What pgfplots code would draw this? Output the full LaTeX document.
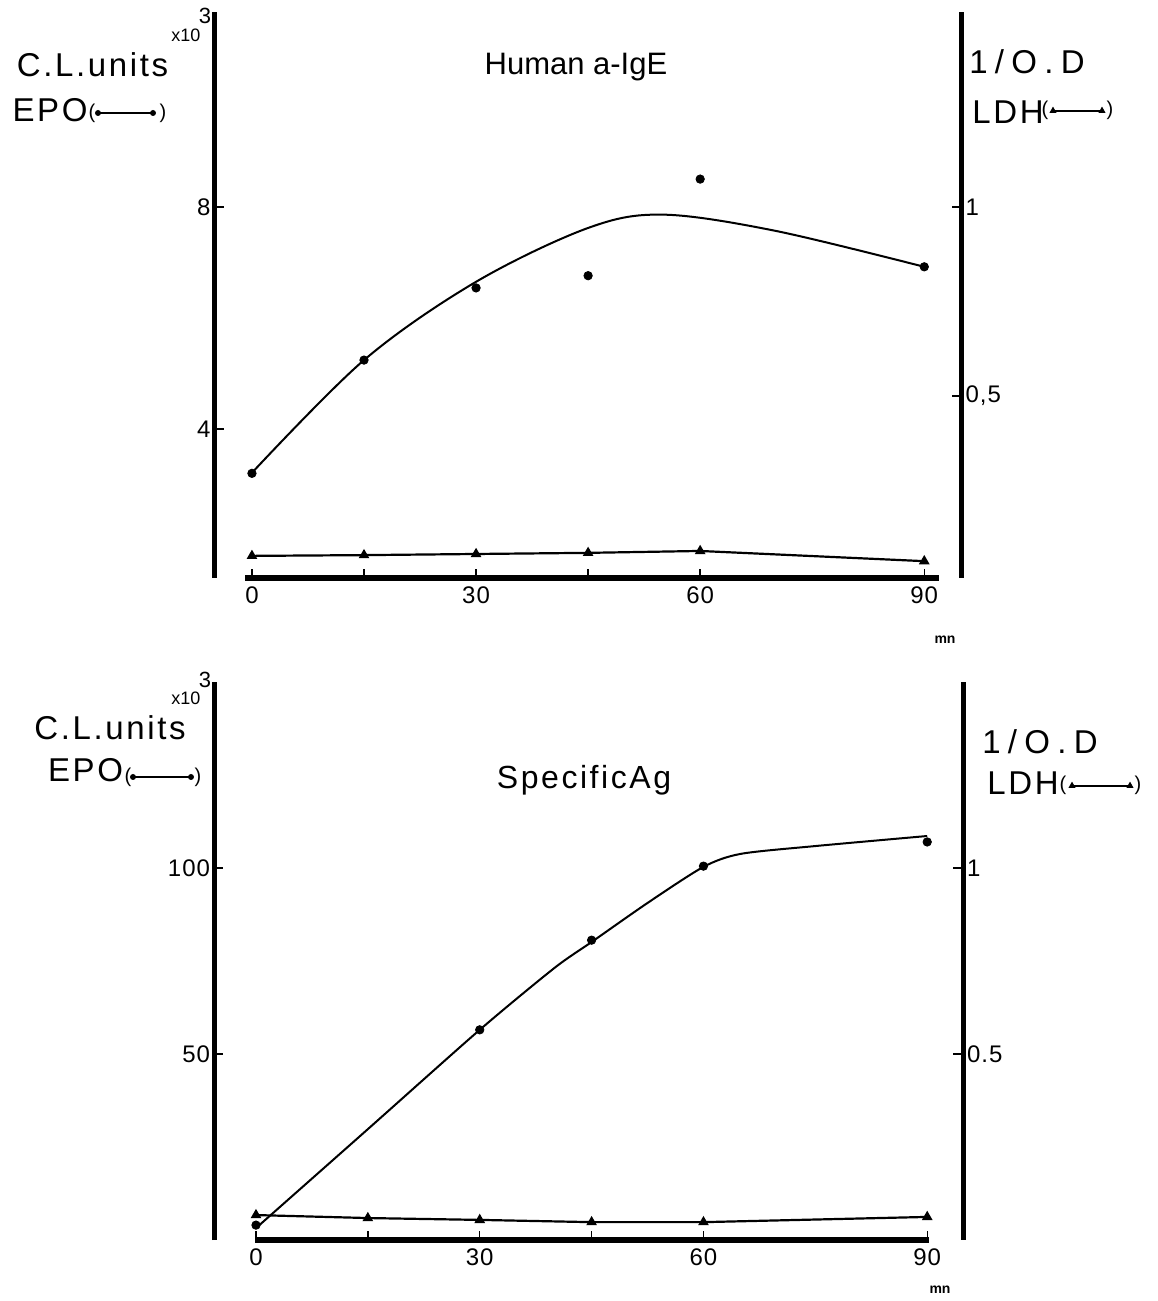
\documentclass[border=0pt]{standalone}
\usepackage{fontspec}
\setmainfont{Liberation Sans}
\newfontfamily\wide[LetterSpace=8]{Liberation Sans}
\newfontfamily\wider[LetterSpace=22]{Liberation Sans}
\newfontfamily\numfont[LetterSpace=4]{Liberation Sans}
\usepackage{pgfplots}
\pgfplotsset{compat=1.18}

\pgfplotsset{
  panel/.style={
    scale only axis, clip=false,
    axis x line*=bottom, axis y line*=left,
    x axis line style={draw=none},
    y axis line style={line width=2.5pt},
    tick align=inside, major tick length=4.5pt,
    tick style={black, line width=0.7pt},
    xtick={0,15,30,45,60,90}, xticklabels={0,,30,,60,90},
    /pgf/number format/assume math mode=true,
    ticklabel style={font=\numfont\fontsize{12}{14}\selectfont},
    xticklabel style={yshift=-1pt},
    yticklabel style={xshift=1.5pt},
  },
  ldh/.style={
    scale only axis, clip=false,
    axis x line=none, axis y line*=right,
    y axis line style={line width=2.5pt},
    tick align=inside, major tick length=5pt,
    tick style={black, line width=0.7pt},
    ytick={0.5,1},
    ticklabel style={font=\numfont\fontsize{12}{14}\selectfont},
    yticklabel style={xshift=-1.5pt},
  },
}

\begin{document}
\begin{tikzpicture}
\path[use as bounding box] (0pt,0pt) rectangle (578.5pt,650.5pt);

% ---------- top panel: Human a-IgE ----------
\begin{axis}[panel, at={(107.3pt,361.5pt)}, anchor=south west,
    width=373.5pt, height=283pt,
    xmin=-5, xmax=95, ymin=1.315, ymax=11.51, ytick={4,8}]
  % thick time axis
  \draw[line width=3.2pt] (axis cs:-0.9,1.315) -- (axis cs:92,1.315);
  % EPO fitted curve
  \addplot[black, line width=1pt, smooth, tension=0.55] coordinates {
    (0,3.21) (15,5.24) (30,6.65) (45,7.62)
    (55,7.86) (70,7.57) (90,6.92)};
  % EPO measured
  \addplot[only marks, mark=*, mark size=2.1pt, black] coordinates {
    (0,3.2) (15,5.24) (30,6.54) (45,6.76) (60,8.5) (90,6.92)};
\end{axis}
\begin{axis}[ldh, at={(107.3pt,361.5pt)}, anchor=south west,
    width=373.5pt, height=283pt,
    xmin=-5, xmax=95, ymin=0.0185, ymax=1.516,
    yticklabels={{0,5},1}]
  \addplot[black, line width=1.1pt, mark=triangle*, mark size=2pt] coordinates {
    (0,0.077) (15,0.079) (30,0.082) (45,0.085) (60,0.090) (90,0.063)};
\end{axis}

% ---------- bottom panel: SpecificAg ----------
\begin{axis}[panel, at={(107pt,30.5pt)}, anchor=south west,
    width=374.5pt, height=279pt,
    xmin=-5.63, xmax=94.8, ymin=0, ymax=150, ytick={50,100}]
  \draw[line width=3.2pt] (axis cs:-0.1,0) -- (axis cs:90.2,0);
  \addplot[black, line width=1pt, smooth, tension=0.45] coordinates {
    (0,3.2) (15,29.8) (30,56.5) (40,73.1) (45,80.1) (52.5,90.6)
    (60,100.3) (65,103.8) (75,105.9) (90,108.6)};
  \addplot[only marks, mark=*, mark size=2.1pt, black] coordinates {
    (0,4.0) (30,56.5) (45,80.6) (60,100.5) (90,107)};
\end{axis}
\begin{axis}[ldh, at={(107pt,30.5pt)}, anchor=south west,
    width=374.5pt, height=279pt,
    xmin=-5.63, xmax=94.8, ymin=0, ymax=1.5,
    yticklabels={0.5,1}]
  \addplot[black, line width=1.1pt, mark=triangle*, mark size=2pt] coordinates {
    (0,0.067) (15,0.059) (30,0.054) (45,0.048) (60,0.048) (90,0.062)};
\end{axis}

% ---------- labels, top ----------
\node[font=\wide\fontsize{16.5}{19}\selectfont] at (46.25pt,618pt) {C.L.units};
\node[font=\wide\fontsize{16.5}{19}\selectfont] at (25pt,595.5pt) {EPO};
\node[font=\fontsize{10}{11}\selectfont] at (46pt,594pt) {(};
\node[font=\fontsize{10}{11}\selectfont] at (81.5pt,594pt) {)};
\draw[line width=0.8pt] (49pt,594pt) -- (76.5pt,594pt);
\fill (49pt,594pt) circle (1.5pt); \fill (76.5pt,594pt) circle (1.5pt);
\node[font=\fontsize{9}{10}\selectfont] at (93pt,633pt) {x10};
\node[font=\fontsize{11}{12}\selectfont] at (102.5pt,642.5pt) {3};
\node[font=\fontsize{15.5}{18}\selectfont] at (288pt,617pt) {Human a-IgE};
\node[font=\wider\fontsize{16.5}{19}\selectfont] at (513.5pt,619.5pt) {1/O.D};
\node[font=\wide\fontsize{16.5}{19}\selectfont] at (504pt,594.5pt) {LDH};
\node[font=\fontsize{10}{11}\selectfont] at (522.5pt,595.5pt) {(};
\node[font=\fontsize{10}{11}\selectfont] at (555pt,595.5pt) {)};
\draw[line width=0.8pt] (526.5pt,595pt) -- (551pt,595pt);
\fill (524.7pt,594pt) -- (528.3pt,594pt) -- (526.5pt,597.2pt) -- cycle;
\fill (549.2pt,594pt) -- (552.8pt,594pt) -- (551pt,597.2pt) -- cycle;
\node[font=\bfseries\fontsize{7}{8}\selectfont] at (472.5pt,330.5pt) {mn};

% ---------- labels, bottom ----------
\node[font=\wide\fontsize{16.5}{19}\selectfont] at (55pt,286.5pt) {C.L.units};
\node[font=\wide\fontsize{16.5}{19}\selectfont] at (42.75pt,265.5pt) {EPO};
\node[font=\fontsize{10}{11}\selectfont] at (64pt,262pt) {(};
\node[font=\fontsize{10}{11}\selectfont] at (99pt,262pt) {)};
\draw[line width=0.8pt] (66.5pt,262pt) -- (95.5pt,262pt);
\fill (66.5pt,262pt) circle (1.5pt); \fill (95.5pt,262pt) circle (1.5pt);
\node[font=\fontsize{9}{10}\selectfont] at (93pt,301.5pt) {x10};
\node[font=\fontsize{11}{12}\selectfont] at (102.5pt,310.5pt) {3};
\node[font=\wide\fontsize{16}{19}\selectfont] at (292pt,260.5pt) {SpecificAg};
\node[font=\wider\fontsize{16.5}{19}\selectfont] at (520pt,279.5pt) {1/O.D};
\node[font=\wide\fontsize{16.5}{19}\selectfont] at (511.5pt,259pt) {LDH};
\node[font=\fontsize{10}{11}\selectfont] at (531.5pt,258pt) {(};
\node[font=\fontsize{10}{11}\selectfont] at (569pt,258pt) {)};
\draw[line width=0.8pt] (536pt,257.5pt) -- (565pt,257.5pt);
\fill (534.2pt,256.5pt) -- (537.8pt,256.5pt) -- (536pt,259.7pt) -- cycle;
\fill (563.2pt,256.5pt) -- (566.8pt,256.5pt) -- (565pt,259.7pt) -- cycle;
\node[font=\bfseries\fontsize{7}{8}\selectfont] at (470pt,5.5pt) {mn};
\end{tikzpicture}
\end{document}
